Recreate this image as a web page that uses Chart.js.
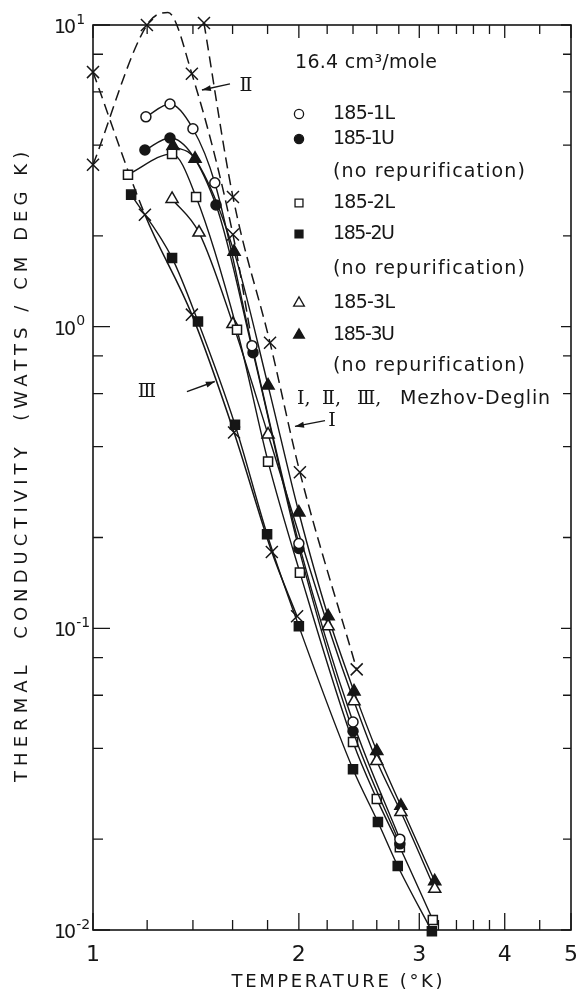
<!DOCTYPE html>
<html>
<head>
<meta charset="utf-8">
<script src="https://cdn.jsdelivr.net/npm/chart.js@4.4.1/dist/chart.umd.min.js"></script>
<style>
  html, body { margin: 0; padding: 0; background: #fff; }
  canvas { display: block; }
</style>
</head>
<body>
<canvas id="conductivity" width="576" height="995"></canvas>
<script>
// Thermal conductivity of solid helium, 16.4 cm3/mole
const temp1L = [1.195, 1.296, 1.40, 1.507, 1.708, 2.0, 2.40, 2.81];
const cond1L = [4.96, 5.47, 4.53, 3.0, 0.865, 0.191, 0.0489, 0.020];

const temp1U = [1.191, 1.296, 1.513, 1.714, 2.0, 2.40, 2.81];
const cond1U = [3.85, 4.22, 2.53, 0.82, 0.184, 0.0456, 0.0193];

const temp2L = [1.125, 1.305, 1.415, 1.624, 1.803, 2.007, 2.40, 2.60, 2.81, 3.14];
const cond2L = [3.19, 3.74, 2.69, 0.977, 0.357, 0.153, 0.042, 0.0272, 0.0188, 0.0108];

const temp2U = [1.137, 1.305, 1.424, 1.613, 1.797, 2.0, 2.40, 2.61, 2.79, 3.13];
const cond2U = [2.74, 1.69, 1.04, 0.473, 0.205, 0.1016, 0.0341, 0.0228, 0.0163, 0.0099];

const temp3L = [1.305, 1.429, 1.602, 1.803, 2.207, 2.408, 2.60, 2.82, 3.16];
const cond3L = [2.65, 2.05, 1.02, 0.439, 0.1016, 0.0573, 0.0363, 0.0246, 0.0137];

const temp3U = [1.309, 1.41, 1.608, 1.803, 2.0, 2.207, 2.408, 2.60, 2.82, 3.16];
const cond3U = [3.97, 3.60, 1.77, 0.638, 0.242, 0.1096, 0.0618, 0.0392, 0.0258, 0.0145];

// Mezhov-Deglin curves I, II, III (dashed) and their x marks
const tempI = [1.453, 1.602, 1.815, 2.007, 2.43];
const condI = [10.15, 2.69, 0.885, 0.329, 0.0731];

const tempII = [1.0, 1.199, 1.287, 1.395, 1.602, 1.696];
const condII = [3.44, 10.0, 11.0, 6.89, 2.02, 0.977];
const tempIImarks = [1.0, 1.199, 1.395, 1.602];
const condIImarks = [3.44, 10.0, 6.89, 2.02];

const tempIII = [1.0, 1.191, 1.395, 1.608, 1.826, 1.988];
const condIII = [6.98, 2.35, 1.096, 0.446, 0.179, 0.1096];

const xTicks = [1, 1.2, 1.4, 1.6, 1.8, 2, 2.2, 2.4, 2.6, 2.8, 3, 3.2, 3.4, 3.6, 3.8, 4, 4.5, 5];
const xTickLabels = { '1': '1', '2': '2', '3': '3', '4': '4', '5': '5' };
const yTicks = [0.01, 0.02, 0.04, 0.06, 0.08, 0.1, 0.2, 0.4, 0.6, 0.8, 1, 2, 4, 6, 8, 10];
// y labels as base and exponent
const yTickLabels = { '0.01': ['10', '-2'], '0.1': ['10', '-1'], '1': ['10', '0'], '10': ['10', '1'] };

const volumeLabel = '16.4 cm\u00B3/mole';
const noteLabel = '(no repurification)';
const deglinLabel = 'Mezhov-Deglin';

const INK = '#161616';
const SANS = '"DejaVu Sans", sans-serif';
const SERIF = '"DejaVu Serif", serif';

const zip = (xs, ys) => xs.map((x, i) => ({ x: x, y: ys[i] }));

function sample(label, t, k, shape, filled) {
  const r = shape === 'rect' ? 6.4 : shape === 'triangle' ? 7 : 5;
  return {
    label: label,
    data: zip(t, k),
    showLine: true,
    borderColor: INK,
    borderWidth: 1.4,
    pointStyle: shape,
    pointRadius: r,
    pointHoverRadius: r,
    pointBorderWidth: 1.5,
    pointBorderColor: INK,
    pointBackgroundColor: filled ? INK : '#fff',
    cubicInterpolationMode: 'monotone',
    clip: false
  };
}

function deglin(label, t, k, withMarks, dashFirstOnly) {
  return {
    label: label,
    data: zip(t, k),
    showLine: true,
    borderColor: INK,
    borderWidth: 1.5,
    borderDash: dashFirstOnly ? [] : [11, 6],
    segment: dashFirstOnly ? { borderDash: c => c.p0DataIndex === 0 ? [11, 6] : [] } : undefined,
    pointStyle: 'crossRot',
    pointRadius: withMarks ? 8.5 : 0,
    pointHoverRadius: withMarks ? 8.5 : 0,
    pointBorderWidth: 1.5,
    pointBorderColor: INK,
    cubicInterpolationMode: 'monotone',
    clip: false
  };
}

const marks = {
  '185-1L': ['circle', false], '185-1U': ['circle', true],
  '185-2L': ['rect', false], '185-2U': ['rect', true],
  '185-3L': ['triangle', false], '185-3U': ['triangle', true]
};

const datasets = [
  sample('185-1L', temp1L, cond1L, 'circle', false),
  sample('185-1U', temp1U, cond1U, 'circle', true),
  sample('185-2L', temp2L, cond2L, 'rect', false),
  sample('185-2U', temp2U, cond2U, 'rect', true),
  sample('185-3L', temp3L, cond3L, 'triangle', false),
  sample('185-3U', temp3U, cond3U, 'triangle', true),
  deglin('I', tempI, condI, true, false),
  deglin('II', tempII, condII, false, false),
  Object.assign(deglin('II marks', tempIImarks, condIImarks, true, false), { showLine: false }),
  deglin('III', tempIII, condIII, true, true)
];

function isMajor(v) {
  const l = Math.log10(v);
  return Math.abs(l - Math.round(l)) < 1e-9;
}

function spaced(ctx, text, x, y, width, align) {
  ctx.letterSpacing = '0px';
  const w = ctx.measureText(text).width;
  const sp = width ? (width - w) / Math.max(1, text.length - 1) : 0;
  ctx.letterSpacing = sp.toFixed(2) + 'px';
  ctx.textAlign = 'left';
  let left = x;
  if (align === 'center') left = x - (width || w) / 2;
  ctx.fillText(text, left, y);
  ctx.letterSpacing = '0px';
}

function arrow(ctx, x1, y1, x2, y2) {
  ctx.beginPath();
  ctx.moveTo(x1, y1);
  ctx.lineTo(x2, y2);
  ctx.stroke();
  const a = Math.atan2(y2 - y1, x2 - x1), L = 9, W = 3;
  ctx.beginPath();
  ctx.moveTo(x2, y2);
  ctx.lineTo(x2 - L * Math.cos(a) + W * Math.sin(a), y2 - L * Math.sin(a) - W * Math.cos(a));
  ctx.lineTo(x2 - L * Math.cos(a) - W * Math.sin(a), y2 - L * Math.sin(a) + W * Math.cos(a));
  ctx.closePath();
  ctx.fill();
}

// frame with inward tick marks, plus the key and the labels inside the plot
const paperPlugin = {
  id: 'paper',
  beforeDatasetsDraw(chart) {
    const { ctx, chartArea: a, scales: { x, y } } = chart;
    ctx.save();
    ctx.strokeStyle = INK;
    ctx.lineWidth = 1.6;
    ctx.strokeRect(a.left, a.top, a.right - a.left, a.bottom - a.top);
    ctx.lineWidth = 1.3;
    ctx.beginPath();
    x.ticks.forEach(t => {
      const px = x.getPixelForValue(t.value);
      const big = Number.isInteger(t.value);
      ctx.moveTo(px, a.bottom); ctx.lineTo(px, a.bottom - (big ? 17 : 10));
      ctx.moveTo(px, a.top); ctx.lineTo(px, a.top + (big ? 13 : 9));
    });
    y.ticks.forEach(t => {
      const py = y.getPixelForValue(t.value);
      const big = isMajor(t.value);
      ctx.moveTo(a.left, py); ctx.lineTo(a.left + (big ? 17 : 10), py);
      ctx.moveTo(a.right, py); ctx.lineTo(a.right - (big ? 10 : 8), py);
    });
    ctx.stroke();

    // power-of-ten labels on the y axis
    ctx.fillStyle = INK;
    ctx.textBaseline = 'middle';
    ctx.textAlign = 'left';
    y.ticks.forEach(t => {
      const lab = yTickLabels[String(t.value)];
      if (!lab) return;
      const py = y.getPixelForValue(t.value);
      ctx.font = '19px ' + SANS;
      ctx.letterSpacing = '-2px';
      ctx.fillText(lab[0], 54, py + 3);
      const w = ctx.measureText(lab[0]).width;
      ctx.font = '14px ' + SANS;
      ctx.letterSpacing = '0px';
      ctx.fillText(lab[1], 54 + w + 2, py - 5);
    });
    ctx.restore();
  },
  afterDraw(chart) {
    const { ctx, chartArea: a, scales: { x, y } } = chart;
    const P = (tx, ky) => [x.getPixelForValue(tx), y.getPixelForValue(ky)];
    ctx.save();
    ctx.fillStyle = INK;
    ctx.strokeStyle = INK;
    ctx.textBaseline = 'middle';

    // axis titles
    ctx.font = '18px ' + SANS;
    spaced(ctx, 'TEMPERATURE (\u00B0K)', 337, 982, 211, 'center');
    ctx.save();
    ctx.translate(22, 467);
    ctx.rotate(-Math.PI / 2);
    ctx.font = '18px ' + SANS;
    spaced(ctx, 'THERMAL  CONDUCTIVITY  (WATTS / CM DEG K)', 0, 0, 630, 'center');
    ctx.restore();

    // key
    const keyX = a.left + 206, textX = a.left + 240;
    ctx.font = '19px ' + SANS;
    spaced(ctx, volumeLabel, a.left + 202, 63, 142);
    const rows = [
      ['185-1L', 114], ['185-1U', 139], [noteLabel, 172],
      ['185-2L', 203], ['185-2U', 234], [noteLabel, 269],
      ['185-3L', 303], ['185-3U', 335], [noteLabel, 366]
    ];
    rows.forEach(([label, rowY]) => {
      const m = marks[label];
      if (m) {
        ctx.save();
        ctx.lineWidth = 1.3;
        ctx.fillStyle = m[1] ? INK : '#fff';
        const r = m[0] === 'rect' ? 5.6 : m[0] === 'triangle' ? 6.2 : 4.6;
        Chart.helpers.drawPoint(ctx, { pointStyle: m[0], radius: r, rotation: 0, borderWidth: 1.3 }, keyX, rowY);
        ctx.restore();
      }
      spaced(ctx, label, textX, rowY, label === noteLabel ? 192 : 62);
    });
    ctx.font = '19px ' + SERIF;
    ctx.textAlign = 'left';
    ctx.fillText('\u2160,', a.left + 204, 399);
    ctx.fillText('\u2161,', a.left + 229, 399);
    ctx.fillText('\u2162,', a.left + 264, 399);
    ctx.font = '19px ' + SANS;
    spaced(ctx, deglinLabel, a.left + 307, 399, 150);

    // curve labels with arrows
    ctx.lineWidth = 1.4;
    ctx.font = '19px ' + SERIF;
    ctx.textAlign = 'center';
    let p = P(1.674, 6.28); ctx.fillText('\u2161', p[0], p[1]);
    arrow(ctx, ...P(1.586, 6.38), ...P(1.443, 6.09));
    p = P(1.199, 0.609); ctx.fillText('\u2162', p[0], p[1]);
    arrow(ctx, ...P(1.372, 0.609), ...P(1.507, 0.658));
    p = P(2.236, 0.487); ctx.fillText('\u2160', p[0], p[1]);
    arrow(ctx, ...P(2.184, 0.488), ...P(1.974, 0.467));
    ctx.restore();
  }
};

// keep the plot frame exactly where the layout padding puts it
const noLabelPadding = s => {
  s.paddingLeft = 0; s.paddingRight = 0; s.paddingTop = 0; s.paddingBottom = 0;
};

new Chart(document.getElementById('conductivity'), {
  type: 'scatter',
  data: { datasets: datasets },
  options: {
    responsive: false,
    animation: false,
    devicePixelRatio: 1,
    layout: { autoPadding: false, padding: { left: 55, top: 25, right: 5, bottom: 0 } },
    plugins: { legend: { display: false }, tooltip: { enabled: false } },
    scales: {
      x: {
        type: 'logarithmic',
        min: 1,
        max: 5,
        afterBuildTicks: s => { s.ticks = xTicks.map(v => ({ value: v })); },
        afterFit: s => { s.height = 65; noLabelPadding(s); },
        grid: { display: false, drawTicks: false },
        border: { display: false },
        ticks: {
          autoSkip: false,
          maxRotation: 0,
          padding: 12,
          color: INK,
          font: { family: SANS, size: 22 },
          callback: v => xTickLabels[String(v)] || ''
        }
      },
      y: {
        type: 'logarithmic',
        min: 0.01,
        max: 10,
        afterBuildTicks: s => { s.ticks = yTicks.map(v => ({ value: v })); },
        afterFit: s => { s.width = 38; noLabelPadding(s); },
        grid: { display: false, drawTicks: false },
        border: { display: false },
        ticks: { display: false }
      }
    }
  },
  plugins: [paperPlugin]
});
</script>
</body>
</html>
